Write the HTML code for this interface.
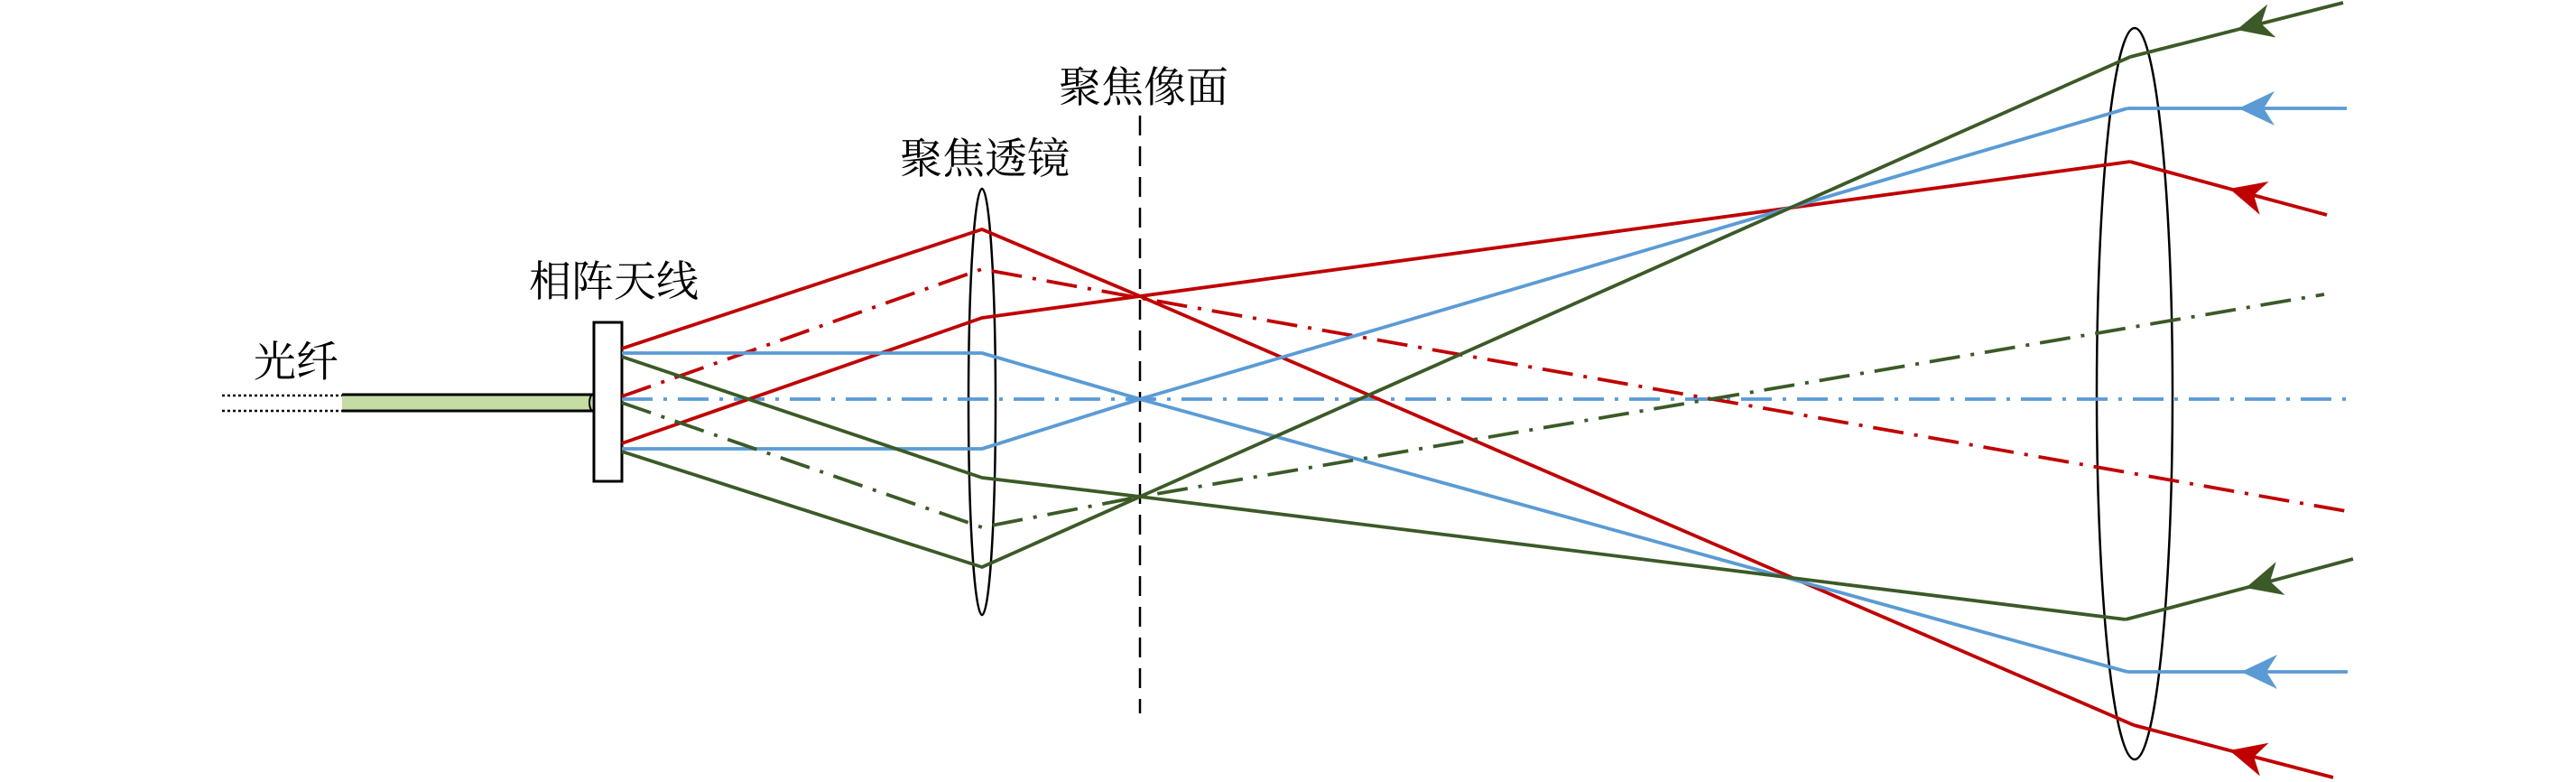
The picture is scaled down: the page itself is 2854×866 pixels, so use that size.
<!DOCTYPE html>
<html><head><meta charset="utf-8"><style>
html,body{margin:0;padding:0;background:#fff;}
svg{display:block;}
text{font-family:"Liberation Serif","Noto Serif CJK SC","Noto Sans CJK SC",serif;font-size:47px;fill:#000;}
</style></head><body>
<svg width="2854" height="866" viewBox="0 0 2854 866" xmlns="http://www.w3.org/2000/svg">
<defs>
<marker id="ar" markerUnits="userSpaceOnUse" markerWidth="44" markerHeight="44" viewBox="-42 -22 44 44" refX="0" refY="0" orient="auto"><path d="M0,0 L-40,-19 L-28,0 L-40,19 Z" fill="#C00000"/></marker>
<marker id="ab" markerUnits="userSpaceOnUse" markerWidth="44" markerHeight="44" viewBox="-42 -22 44 44" refX="0" refY="0" orient="auto"><path d="M0,0 L-40,-19 L-28,0 L-40,19 Z" fill="#5B9BD5"/></marker>
<marker id="ag" markerUnits="userSpaceOnUse" markerWidth="44" markerHeight="44" viewBox="-42 -22 44 44" refX="0" refY="0" orient="auto"><path d="M0,0 L-40,-19 L-28,0 L-40,19 Z" fill="#3B5A27"/></marker>
</defs>
<!-- labels -->
<text x="281" y="417">光纤</text>
<text x="586" y="328">相阵天线</text>
<text x="997" y="192">聚焦透镜</text>
<text x="1173" y="113">聚焦像面</text>
<!-- fiber -->
<line x1="246" y1="438" x2="379" y2="438" stroke="#000" stroke-width="2.5" stroke-dasharray="3,3"/>
<line x1="246" y1="455" x2="379" y2="455" stroke="#000" stroke-width="2.5" stroke-dasharray="3,3"/>
<rect x="379" y="437" width="277" height="18" fill="#C5DCA5"/>
<line x1="379" y1="437" x2="657" y2="437" stroke="#000" stroke-width="3"/>
<line x1="379" y1="455" x2="657" y2="455" stroke="#000" stroke-width="3"/>
<ellipse cx="657" cy="446" rx="4" ry="9" fill="none" stroke="#000" stroke-width="2"/>
<!-- antenna -->
<rect x="658" y="357" width="31" height="176" fill="#fff" stroke="#000" stroke-width="3"/>
<!-- focal plane -->
<line x1="1263" y1="128" x2="1263" y2="790" stroke="#000" stroke-width="2.5" stroke-dasharray="22,12"/>
<!-- lenses -->
<ellipse cx="1088" cy="445" rx="15" ry="236" fill="none" stroke="#000" stroke-width="2.5"/>
<ellipse cx="2365" cy="436" rx="42" ry="405" fill="none" stroke="#000" stroke-width="2.5"/>
<g fill="none" stroke-width="3.8" stroke-linejoin="round">
<line x1="689" y1="442" x2="2600" y2="442" stroke="#5B9BD5" stroke-dasharray="34,12,4,12"/>
<polyline points="689,386 1088,254 1263,328 2364,803" stroke="#C00000"/>
<polyline points="689,491 1088,352 1263,328 2360,179" stroke="#C00000"/>
<polyline points="689,439 1088,298 1263,330 2605,567" stroke="#C00000" stroke-dasharray="34,12,4,12"/>
<polyline points="689,391 1088,391 1263,442 2357,744" stroke="#5B9BD5"/>
<polyline points="689,497 1088,497 1263,442 2357,120" stroke="#5B9BD5"/>
<polyline points="689,395 1088,529 1263,550 2355,686" stroke="#3B5A27"/>
<polyline points="689,500 1088,628 1263,550 2360,63" stroke="#3B5A27"/>
<polyline points="689,446 1088,584 1263,550 2575,326" stroke="#3B5A27" stroke-dasharray="34,12,4,12"/>
<line x1="2596" y1="3" x2="2478" y2="33" stroke="#3B5A27" marker-end="url(#ag)"/>
<line x1="2478" y1="33" x2="2360" y2="63" stroke="#3B5A27"/>
<line x1="2600" y1="120" x2="2480" y2="120" stroke="#5B9BD5" marker-end="url(#ab)"/>
<line x1="2480" y1="120" x2="2357" y2="120" stroke="#5B9BD5"/>
<line x1="2578" y1="238" x2="2470" y2="209" stroke="#C00000" marker-end="url(#ar)"/>
<line x1="2470" y1="209" x2="2360" y2="179" stroke="#C00000"/>
<line x1="2607" y1="619" x2="2488" y2="651" stroke="#3B5A27" marker-end="url(#ag)"/>
<line x1="2488" y1="651" x2="2355" y2="686" stroke="#3B5A27"/>
<line x1="2601" y1="744" x2="2483" y2="744" stroke="#5B9BD5" marker-end="url(#ab)"/>
<line x1="2483" y1="744" x2="2357" y2="744" stroke="#5B9BD5"/>
<line x1="2585" y1="861" x2="2470" y2="831" stroke="#C00000" marker-end="url(#ar)"/>
<line x1="2470" y1="831" x2="2364" y2="803" stroke="#C00000"/>
</g>
</svg>
</body></html>
